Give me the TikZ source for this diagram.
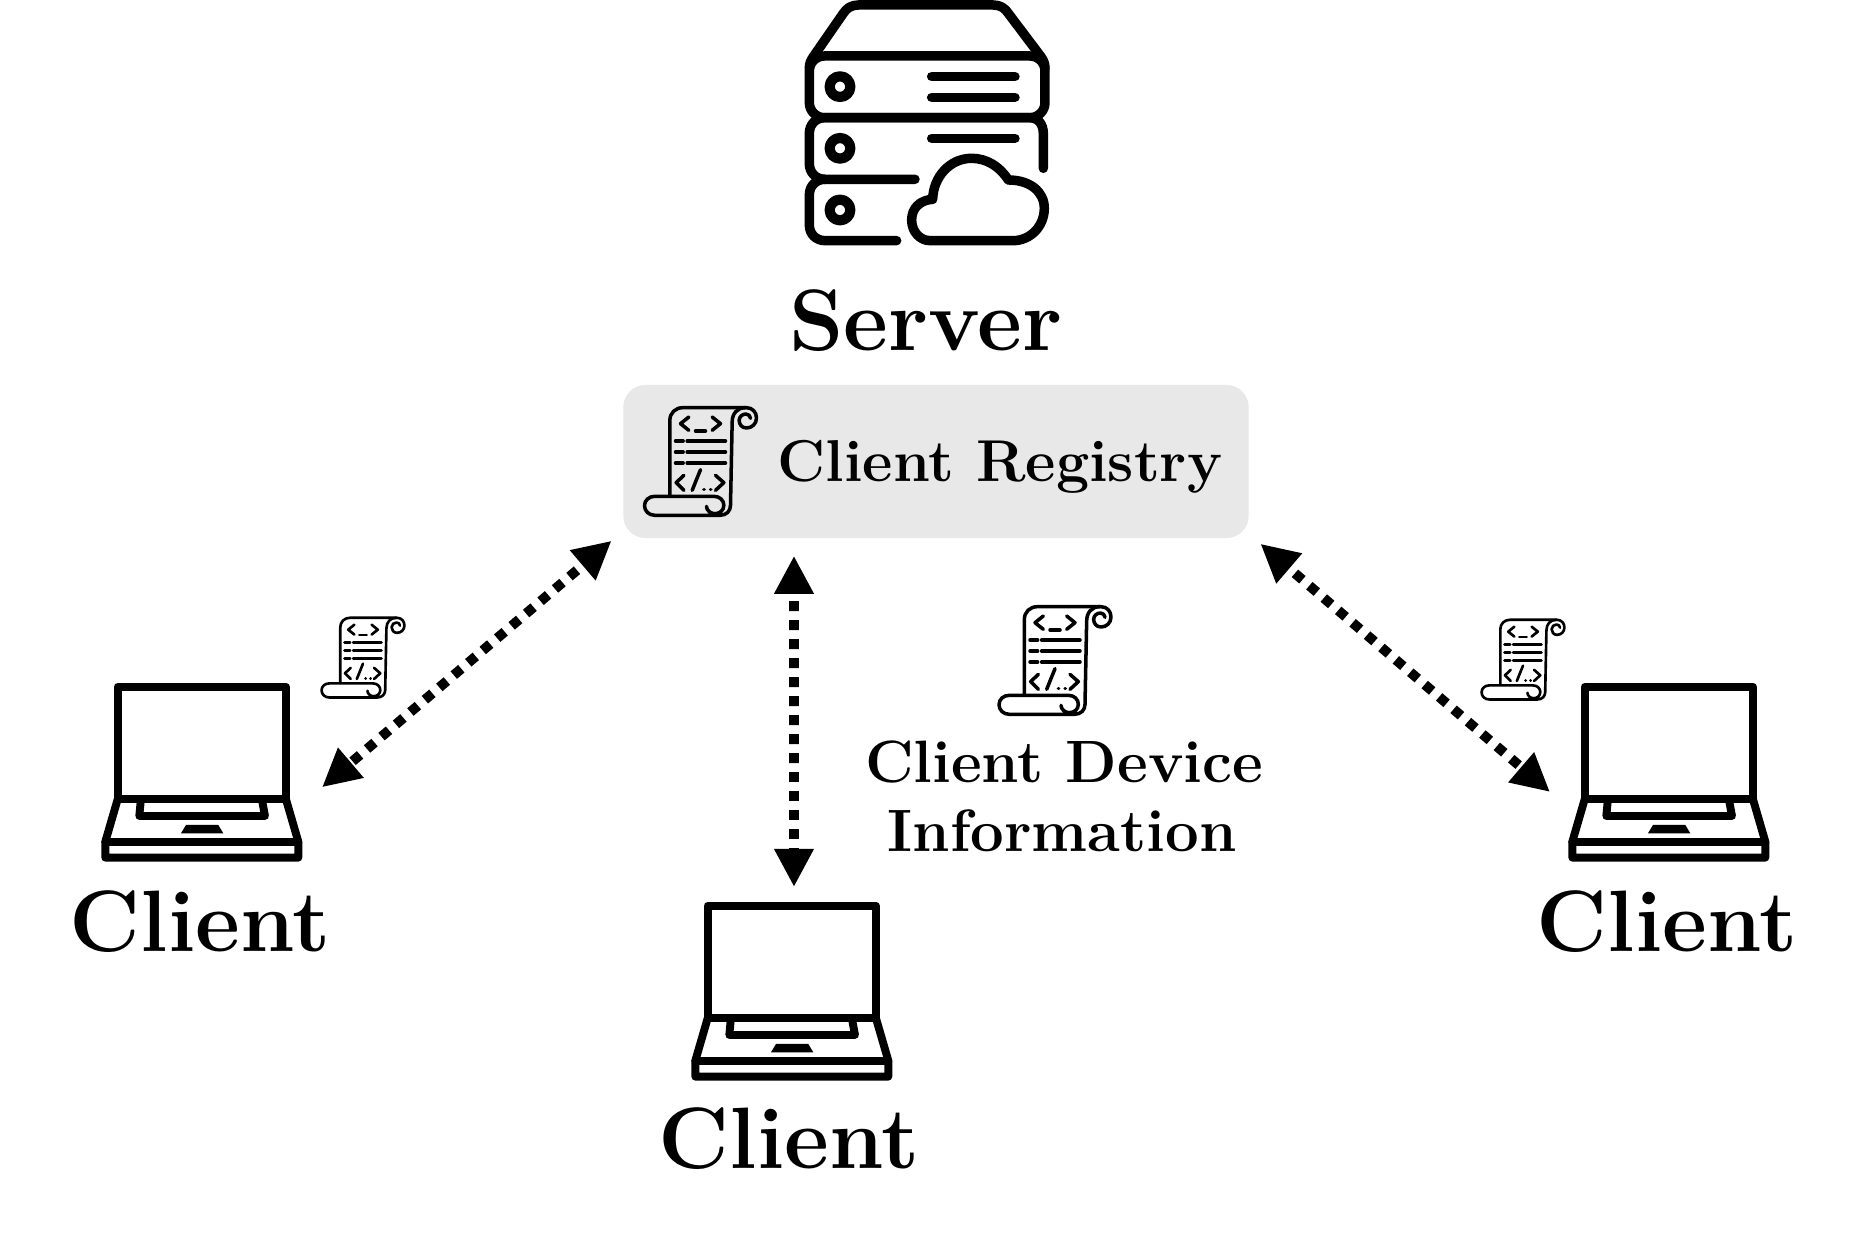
\documentclass[tikz,border=0pt]{standalone}
\usepackage{tikz}
\usetikzlibrary{arrows.meta}

\definecolor{boxgray}{HTML}{E8E8E8}

\newcommand{\clientfont}{\fontsize{24.8}{28}\selectfont\bfseries}
\newcommand{\infofont}{\fontsize{17}{19.6}\selectfont\bfseries}
\newcommand{\regfont}{\fontsize{16.8}{19.6}\selectfont\bfseries}

\tikzset{
  iconline/.style={line cap=round, line join=round},
  biglabel/.style={anchor=base, inner sep=0pt, font=\clientfont},
  smalllabel/.style={inner sep=0pt, font=\infofont},
  reglabelstyle/.style={inner sep=0pt, font=\regfont},
  regbox/.style={fill=boxgray, rounded corners=0.22cm, minimum width=6.25cm, minimum height=1.53cm, inner sep=0pt},
  datalink/.style={line width=2.8pt, dash pattern=on 2.8pt off 2.6pt, dash phase=2.6pt, {Triangle[length=0.38cm,width=0.37cm]}-{Triangle[length=0.38cm,width=0.37cm]}},
  pics/laptop/.style={code={
    \begin{scope}[scale=0.3333, iconline, line width=2.25pt]
      \draw (113,50) rectangle (618,388);
      \draw (113,388) -- (76,515) -- (76,563) -- (655,563) -- (655,515) -- (618,388);
      \draw (76,515) -- (655,515);
      \draw (182,395) -- (178,438) -- (555,438) -- (547,395);
      \fill (318,465) -- (415,465) -- (430,490) -- (303,490) -- cycle;
      \coordinate (-west) at (9,366);
      \coordinate (-east) at (726,352);
      \coordinate (-north) at (372,-6);
    \end{scope}
  }},
  pics/scrollicon/.style={code={
    \begin{scope}[scale=0.3333, shift={(-240,-245)}, iconline]
      \draw (148,345) -- (148,120) .. controls (148,98) and (165,82) .. (187,82) -- (378,82)
        .. controls (397,82) and (408,97) .. (408,113) .. controls (408,131) and (394,143) .. (378,143)
        .. controls (364,143) and (356,132) .. (356,120) .. controls (356,109) and (366,101) .. (376,101)
        .. controls (384,101) and (390,107) .. (390,114);
      \draw (375,82) .. controls (350,82) and (335,100) .. (335,125) -- (330,375)
        .. controls (330,392) and (318,405) .. (298,405) -- (103,405)
        .. controls (85,405) and (72,392) .. (72,376) .. controls (72,360) and (85,348) .. (103,348) -- (280,348)
        .. controls (298,348) and (310,360) .. (310,375) .. controls (310,390) and (298,400) .. (283,400)
        .. controls (270,400) and (258,390) .. (258,378);
      \draw (205,110) -- (180,130) -- (205,150);
      \draw (275,110) -- (300,130) -- (275,150);
      \draw (225,152) -- (255,152);
      \foreach \rowy in {182,215,248} {
        \draw (165,\rowy) -- (188,\rowy);
        \draw (200,\rowy) -- (315,\rowy);
      }
      \draw (190,285) -- (167,307) -- (190,330);
      \draw (240,268) -- (215,330);
      \draw (250,328) -- (251,328);
      \draw (270,328) -- (271,328);
      \draw (285,285) -- (310,307) -- (285,330);
    \end{scope}
  }},
  pics/serverrack/.style={code={
    \begin{scope}[scale=0.3333, iconline, line width=2.7pt]
      % top cover
      \draw (88,205) .. controls (88,190) and (92,182) .. (100,170) -- (190,40) .. controls (200,24) and (215,15) .. (235,15) -- (640,15)
        .. controls (660,15) and (675,24) .. (685,40) -- (783,170) .. controls (791,182) and (795,190) .. (795,205);
      % first rack
      \draw[rounded corners=0.15cm] (88,168) rectangle (795,353);
      % second rack
      \draw (405,538) -- (135,538) .. controls (108,538) and (88,518) .. (88,491) -- (88,400) .. controls (88,373) and (108,353) .. (135,353)
        -- (748,353) .. controls (775,353) and (790,373) .. (790,400) -- (790,505);
      % third rack
      \draw (350,722) -- (135,722) .. controls (108,722) and (88,702) .. (88,675) -- (88,585) .. controls (88,558) and (108,538) .. (135,538);
      \foreach \rowy in {260,445,630} {
        \draw[line width=2.9pt] (180,\rowy) circle (31);
      }
      \draw (455,230) -- (705,230);
      \draw (455,292) -- (705,292);
      \draw (455,415) -- (705,415);
      % cloud
      \draw (685,540) .. controls (660,500) and (620,475) .. (575,475) .. controls (510,475) and (460,530) .. (458,598)
        .. controls (420,600) and (395,625) .. (395,660) .. controls (395,695) and (420,722) .. (450,722) -- (700,722)
        .. controls (750,722) and (793,680) .. (793,625) .. controls (793,575) and (750,540) .. (685,540);
    \end{scope}
  }},
}

\begin{document}
\begin{tikzpicture}[x=0.01cm,y=-0.01cm]
\useasboundingbox (0,0) rectangle (1875,1255);

% server
\pic (server) at (780,0) {serverrack};
\node[biglabel] (serverlabel) at (926,351) {Server};

% registry
\node[regbox] (registry) at (936,461.5) {};
\pic (regscroll) [line width=1pt] at (700.5,462) {scrollicon};
\node[reglabelstyle, anchor=base west] (reglabel) at (777,482) {Client Registry};

% clients
\pic (laptopL) at (80,670) {laptop};
\pic (laptopM) at (670,889) {laptop};
\pic (laptopR) at (1547,670) {laptop};
\node[biglabel] (clientL) at (200,951) {Client};
\node[biglabel] (clientM) at (789,1168) {Client};
\node[biglabel] (clientR) at (1667,951) {Client};

% scrolls next to the links
\pic (scrollL) [scale=0.74, line width=0.75pt] at (363,658) {scrollicon};
\pic (scrollR) [scale=0.74, line width=0.75pt] at (1523,660) {scrollicon};
\pic (scrollM) [line width=1pt] at (1055,661) {scrollicon};
\node[smalllabel, anchor=base] (infotop) at (1064,782) {Client Device};
\node[smalllabel, anchor=base] (infobot) at (1062,851) {Information};

% links
\coordinate (regL) at ([shift={(-11,2)}]registry.south west);
\coordinate (regM) at ([shift={(-142,17)}]registry.south);
\coordinate (regR) at ([shift={(11,5)}]registry.south east);
\draw[datalink] (regL) -- (laptopL-east);
\draw[datalink] (regM) -- (laptopM-north);
\draw[datalink] (regR) -- (laptopR-west);
\end{tikzpicture}
\end{document}
